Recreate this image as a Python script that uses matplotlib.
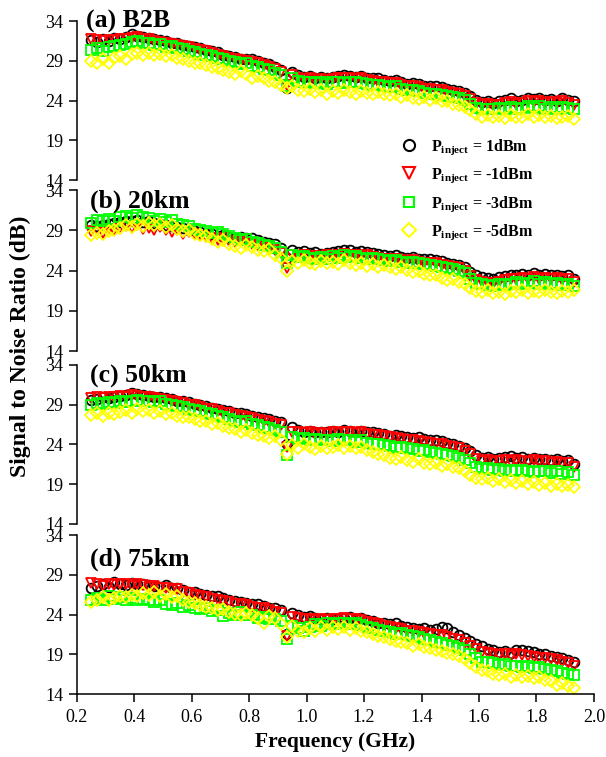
"""Four-panel SNR vs frequency plot for different injection powers and fibre lengths."""

import matplotlib
import matplotlib.pyplot as plt
from matplotlib.lines import Line2D

matplotlib.use("Agg")

# ---------------------------------------------------------------------------
# Data
# ---------------------------------------------------------------------------

FREQ_GHZ = [
    0.25, 0.27, 0.29, 0.31, 0.33, 0.35, 0.37, 0.39, 0.41, 0.43,
    0.45, 0.47, 0.49, 0.51, 0.53, 0.55, 0.57, 0.59, 0.61, 0.63,
    0.65, 0.67, 0.69, 0.71, 0.73, 0.75, 0.77, 0.79, 0.81, 0.83,
    0.85, 0.87, 0.89, 0.91, 0.93, 0.95, 0.97, 0.99, 1.01, 1.03,
    1.05, 1.07, 1.09, 1.11, 1.13, 1.15, 1.17, 1.19, 1.21, 1.23,
    1.25, 1.27, 1.29, 1.31, 1.33, 1.35, 1.37, 1.39, 1.41, 1.43,
    1.45, 1.47, 1.49, 1.51, 1.53, 1.55, 1.57, 1.59, 1.61, 1.63,
    1.65, 1.67, 1.69, 1.71, 1.73, 1.75, 1.77, 1.79, 1.81, 1.83,
    1.85, 1.87, 1.89, 1.91, 1.93,
]

PANEL_LABELS = ["(a) B2B", "(b) 20km", "(c) 50km", "(d) 75km"]
POWER_LABELS = ["1dBm", "-1dBm", "-3dBm", "-5dBm"]

# (a) B2B
B2B_P1 = [
    31.6, 31.4, 31.7, 31.5, 31.9, 31.8, 32.0, 32.4, 32.2, 32.0,
    31.9, 31.7, 31.6, 31.5, 31.3, 31.3, 31.0, 30.9, 30.8, 30.6,
    30.4, 30.2, 30.1, 29.8, 29.6, 29.5, 29.3, 29.2, 29.3, 29.0,
    28.8, 28.6, 28.3, 27.9, 25.6, 27.6, 27.2, 27.0, 27.1, 26.9,
    27.0, 26.9, 27.0, 27.1, 27.2, 27.1, 27.0, 27.1, 26.9, 26.8,
    26.8, 26.6, 26.5, 26.6, 26.4, 26.1, 26.2, 26.1, 25.9, 25.8,
    25.9, 25.7, 25.5, 25.4, 25.2, 25.0, 24.6, 24.1, 23.8, 24.0,
    23.7, 23.9, 24.1, 24.3, 24.0, 24.1, 24.4, 24.2, 24.3, 24.1,
    24.2, 24.0, 24.3, 24.1, 23.9,
]
B2B_M1 = [
    31.7, 31.6, 31.5, 31.6, 31.6, 31.7, 31.8, 31.9, 32.0, 31.8,
    31.7, 31.5, 31.4, 31.3, 31.1, 31.0, 30.9, 30.7, 30.5, 30.4,
    30.2, 30.0, 29.8, 29.6, 29.4, 29.3, 29.1, 29.0, 28.9, 28.7,
    28.5, 28.3, 28.0, 27.6, 26.0, 27.2, 26.9, 26.7, 26.8, 26.6,
    26.7, 26.6, 26.7, 26.8, 26.8, 26.9, 26.7, 26.8, 26.6, 26.5,
    26.4, 26.3, 26.2, 26.2, 26.0, 25.8, 25.8, 25.7, 25.5, 25.5,
    25.4, 25.3, 25.1, 25.0, 24.8, 24.6, 24.2, 23.7, 23.5, 23.6,
    23.4, 23.5, 23.7, 23.8, 23.6, 23.7, 23.9, 23.8, 23.9, 23.7,
    23.8, 23.7, 23.9, 23.7, 23.5,
]
B2B_M3 = [
    30.4, 30.6, 30.3, 30.8, 30.9, 31.0, 31.1, 31.4, 31.5, 31.2,
    31.3, 31.0, 31.1, 30.8, 30.9, 30.6, 30.5, 30.2, 30.1, 29.9,
    29.8, 29.6, 29.4, 29.2, 29.0, 28.9, 28.6, 28.7, 28.4, 28.3,
    28.0, 27.8, 27.5, 27.2, 25.9, 26.8, 26.5, 26.3, 26.4, 26.2,
    26.3, 26.1, 26.3, 26.4, 26.2, 26.4, 26.3, 26.2, 26.1, 26.0,
    26.0, 25.8, 25.7, 25.8, 25.5, 25.4, 25.3, 25.2, 25.0, 24.9,
    24.9, 24.7, 24.6, 24.5, 24.3, 24.1, 23.6, 23.1, 22.9, 23.0,
    22.9, 23.1, 23.0, 23.2, 23.0, 23.1, 23.3, 23.1, 23.3, 23.0,
    23.2, 23.0, 23.2, 23.1, 22.9,
]
B2B_M5 = [
    29.0, 28.8, 29.2, 28.7, 29.4, 29.6, 29.3, 29.9, 30.0, 29.7,
    30.0, 29.8, 29.9, 29.6, 29.7, 29.4, 29.2, 29.0, 28.8, 28.7,
    28.5, 28.3, 28.1, 27.8, 27.6, 27.4, 27.7, 27.3, 26.9, 27.1,
    26.8, 26.5, 26.3, 26.0, 25.6, 25.8, 25.4, 25.2, 25.5, 25.1,
    25.3, 24.9, 25.2, 25.0, 25.3, 25.1, 24.9, 25.2, 25.0, 24.8,
    25.1, 24.9, 24.7, 24.9, 24.5, 24.7, 24.4, 24.2, 24.5, 24.1,
    24.3, 23.9, 24.0, 23.6, 23.4, 23.2, 22.8, 22.3, 22.0, 22.2,
    21.9, 22.1, 21.8, 22.2, 21.9, 22.0, 22.3, 21.9, 22.2, 22.0,
    22.1, 21.8, 22.0, 22.1, 21.7,
]

# (b) 20 km
KM20_P1 = [
    29.7, 29.5, 29.6, 29.8, 29.9, 30.0, 30.2, 30.1, 30.3, 30.0,
    30.1, 29.9, 29.8, 29.7, 29.5, 29.4, 29.3, 29.1, 28.9, 28.8,
    28.6, 28.5, 28.3, 28.4, 28.2, 28.1, 28.2, 28.0, 28.1, 27.8,
    27.6, 27.4, 27.3, 26.8, 25.6, 26.5, 26.3, 26.4, 26.2, 26.3,
    26.1, 26.2, 26.3, 26.4, 26.5, 26.5, 26.3, 26.4, 26.3, 26.2,
    26.1, 26.0, 25.8, 25.9, 25.7, 25.6, 25.7, 25.5, 25.4, 25.5,
    25.3, 25.2, 25.0, 24.8, 24.7, 24.4, 23.8, 23.4, 23.2, 23.1,
    23.0, 23.2, 23.3, 23.5, 23.4, 23.6, 23.5, 23.7, 23.5, 23.6,
    23.4, 23.5, 23.3, 23.4, 23.0,
]
KM20_M1 = [
    28.9, 29.1, 28.7, 29.2, 29.0, 29.4, 29.5, 29.3, 29.6, 29.2,
    29.3, 29.1, 29.4, 29.0, 28.8, 29.0, 28.6, 28.8, 28.5, 28.3,
    28.2, 28.0, 27.8, 28.0, 27.7, 27.5, 27.7, 27.4, 27.3, 27.1,
    27.0, 26.8, 26.6, 26.2, 24.3, 25.9, 25.7, 25.9, 25.6, 25.8,
    25.7, 25.9, 25.8, 26.0, 26.1, 25.9, 26.0, 25.8, 25.9, 25.7,
    25.6, 25.5, 25.4, 25.5, 25.3, 25.2, 25.3, 25.1, 25.0, 24.9,
    24.9, 24.7, 24.6, 24.4, 24.3, 24.0, 23.3, 22.8, 22.6, 22.5,
    22.4, 22.6, 22.8, 22.9, 23.0, 23.1, 23.0, 23.2, 23.0, 23.1,
    22.9, 23.1, 22.8, 23.0, 22.6,
]
KM20_M3 = [
    29.9, 30.3, 30.1, 30.4, 30.2, 30.6, 30.8, 30.5, 30.9, 30.6,
    30.5, 30.2, 30.4, 30.0, 30.3, 29.8, 29.6, 29.5, 29.2, 29.1,
    28.9, 28.7, 28.8, 28.5, 28.3, 28.0, 27.8, 27.9, 27.6, 27.4,
    27.2, 27.0, 26.8, 26.3, 24.9, 25.9, 25.7, 25.8, 25.6, 25.5,
    25.7, 25.5, 25.8, 25.6, 25.9, 25.7, 25.8, 25.6, 25.5, 25.6,
    25.4, 25.3, 25.2, 25.3, 25.1, 25.0, 25.1, 24.9, 24.8, 24.7,
    24.6, 24.5, 24.3, 24.2, 24.0, 23.7, 23.0, 22.5, 22.3, 22.2,
    22.1, 22.3, 22.2, 22.4, 22.6, 22.3, 22.5, 22.7, 22.4, 22.6,
    22.3, 22.5, 22.2, 22.4, 22.1,
]
KM20_M5 = [
    28.4, 28.7, 28.5, 28.9, 29.1, 29.3, 29.6, 29.4, 29.8, 29.5,
    29.9, 29.6, 29.8, 29.4, 29.6, 29.2, 28.9, 29.0, 28.6, 28.4,
    28.3, 27.9, 27.6, 27.8, 27.3, 27.1, 26.8, 27.2, 26.9, 26.6,
    26.4, 26.7, 26.0, 25.6, 23.9, 25.2, 24.9, 25.3, 25.0, 24.8,
    25.2, 24.9, 25.1, 24.8, 25.3, 25.0, 24.7, 24.9, 24.6, 24.8,
    24.5, 24.7, 24.4, 24.2, 24.5, 24.1, 23.8, 24.0, 23.6, 23.4,
    23.5, 23.1, 22.8, 23.0, 22.6, 22.4, 21.9, 21.5, 21.3, 21.6,
    21.2, 21.4, 21.1, 21.5, 21.3, 21.6, 21.2, 21.5, 21.3, 21.6,
    21.4, 21.2, 21.5, 21.3, 21.6,
]

# (c) 50 km
KM50_P1 = [
    29.6, 29.7, 29.9, 29.8, 30.0, 30.1, 30.2, 30.4, 30.3, 30.2,
    30.1, 30.0, 29.9, 29.8, 29.7, 29.5, 29.4, 29.3, 29.1, 29.0,
    28.8, 28.6, 28.5, 28.3, 28.2, 28.0, 27.9, 27.8, 27.6, 27.4,
    27.3, 27.2, 27.0, 26.8, 24.0, 26.2, 25.8, 25.6, 25.7, 25.6,
    25.5, 25.6, 25.7, 25.6, 25.8, 25.7, 25.6, 25.7, 25.6, 25.5,
    25.4, 25.3, 25.1, 25.2, 25.0, 24.9, 24.8, 24.9, 24.7, 24.6,
    24.5, 24.4, 24.2, 24.1, 23.8, 23.5, 23.2, 22.6, 22.3, 22.4,
    22.2, 22.3, 22.4, 22.5, 22.3, 22.4, 22.2, 22.3, 22.1, 22.2,
    22.0, 22.1, 21.9, 22.0, 21.5,
]
KM50_M1 = [
    29.8, 29.9, 29.8, 30.0, 29.9, 30.1, 30.0, 30.2, 30.1, 30.0,
    29.9, 29.8, 29.7, 29.6, 29.5, 29.3, 29.2, 29.0, 28.9, 28.7,
    28.5, 28.4, 28.2, 28.0, 27.9, 27.7, 27.6, 27.4, 27.3, 27.1,
    26.9, 26.8, 26.6, 26.4, 23.7, 25.6, 25.5, 25.4, 25.5, 25.3,
    25.4, 25.3, 25.5, 25.4, 25.6, 25.5, 25.4, 25.5, 25.3, 25.2,
    25.2, 25.0, 24.9, 24.8, 24.7, 24.6, 24.5, 24.4, 24.3, 24.2,
    24.1, 24.0, 23.8, 23.7, 23.5, 23.2, 22.8, 22.2, 21.9, 22.0,
    21.8, 21.9, 22.0, 21.8, 22.0, 21.9, 21.8, 22.0, 21.8, 21.9,
    21.7, 21.8, 21.6, 21.7, 21.2,
]
KM50_M3 = [
    29.0, 29.2, 29.1, 29.3, 29.2, 29.4, 29.3, 29.5, 29.6, 29.4,
    29.5, 29.3, 29.4, 29.1, 29.0, 28.8, 28.7, 28.5, 28.3, 28.2,
    27.9, 27.8, 27.6, 27.4, 27.2, 27.0, 26.8, 26.9, 26.6, 26.4,
    26.2, 26.0, 25.8, 25.5, 22.6, 24.9, 24.7, 24.8, 24.6, 24.7,
    24.5, 24.6, 24.4, 24.7, 24.5, 24.6, 24.3, 24.5, 24.2, 24.1,
    24.0, 23.9, 23.8, 23.6, 23.7, 23.5, 23.4, 23.2, 23.3, 23.0,
    22.9, 22.8, 22.6, 22.5, 22.3, 22.0, 21.6, 21.1, 20.9, 21.0,
    20.8, 20.9, 20.7, 20.8, 20.6, 20.8, 20.7, 20.5, 20.7, 20.6,
    20.4, 20.6, 20.3, 20.5, 20.2,
]
KM50_M5 = [
    27.7, 27.9, 27.6, 28.0, 27.8, 28.1, 28.3, 28.0, 28.4, 28.2,
    28.3, 28.0, 28.2, 27.8, 27.9, 27.6, 27.4, 27.5, 27.2, 27.0,
    26.9, 26.6, 26.7, 26.3, 26.1, 25.9, 25.6, 25.8, 25.4, 25.2,
    25.0, 24.8, 25.1, 24.6, 22.8, 23.9, 23.6, 24.0, 23.7, 23.4,
    23.8, 23.5, 23.7, 23.9, 23.6, 23.8, 23.5, 23.7, 23.3, 23.1,
    22.8, 22.6, 22.3, 22.1, 22.4, 22.0, 21.8, 22.1, 21.7, 21.5,
    21.6, 21.3, 21.5, 21.1, 21.0, 20.6, 20.1, 19.8, 19.6, 19.8,
    19.4, 19.6, 19.3, 19.5, 19.2, 19.4, 19.0, 19.3, 18.9, 19.1,
    18.8, 19.0, 18.7, 18.9, 18.6,
]

# (d) 75 km
KM75_P1 = [
    27.3, 27.6, 27.8, 27.5, 28.1, 27.9, 27.7, 28.0, 27.9, 27.8,
    27.7, 27.6, 27.5, 27.7, 27.4, 27.3, 27.1, 26.9, 26.8, 26.6,
    26.5, 26.3, 26.4, 26.1, 25.8, 25.7, 25.6, 25.5, 25.4, 25.3,
    25.1, 24.9, 24.8, 24.6, 21.6, 24.2, 23.9, 23.7, 23.8, 23.6,
    23.5, 23.6, 23.4, 23.5, 23.6, 23.7, 23.5, 23.6, 23.3, 23.2,
    23.0, 22.9, 22.8, 22.9, 22.6, 22.4, 22.3, 22.2, 22.3, 22.1,
    22.2, 22.4, 22.3, 21.8, 21.4, 21.1, 20.7, 20.3, 20.0, 19.7,
    19.5, 19.3, 19.4, 19.2, 19.5, 19.6, 19.4, 19.3, 19.1, 19.0,
    18.8, 18.7, 18.5, 18.3, 18.0,
]
KM75_M1 = [
    28.0, 27.8, 27.6, 27.8, 27.7, 27.9, 27.8, 27.6, 27.8, 27.7,
    27.5, 27.6, 27.4, 27.3, 27.1, 27.2, 26.9, 26.7, 26.5, 26.4,
    26.2, 26.0, 25.9, 25.7, 25.6, 25.4, 25.3, 25.2, 25.0, 24.9,
    24.8, 24.6, 24.4, 24.2, 21.3, 23.7, 23.6, 23.4, 23.5, 23.3,
    23.4, 23.3, 23.5, 23.4, 23.6, 23.5, 23.4, 23.3, 23.1, 23.0,
    22.8, 22.6, 22.5, 22.3, 22.2, 22.0, 21.9, 21.8, 21.7, 21.6,
    21.5, 21.4, 21.2, 21.0, 20.8, 20.5, 20.1, 19.7, 19.3, 19.2,
    19.0, 18.9, 19.1, 18.8, 19.0, 18.9, 18.8, 18.7, 18.5, 18.6,
    18.4, 18.3, 18.1, 17.9, 17.6,
]
KM75_M3 = [
    25.8, 26.1, 25.9, 26.3, 26.0, 26.2, 25.8, 26.1, 25.9, 26.0,
    25.8, 25.6, 25.9, 25.4, 25.2, 25.5, 25.0, 25.2, 24.9, 24.7,
    24.8, 24.5, 24.6, 23.8, 24.2, 24.0, 24.3, 23.9, 24.0, 23.6,
    23.7, 23.4, 23.5, 23.2, 21.0, 22.6, 22.3, 22.0, 22.4, 22.8,
    22.6, 22.9, 22.8, 23.0, 22.9, 22.8, 22.9, 22.7, 22.5, 22.3,
    22.1, 22.0, 21.8, 21.6, 21.7, 21.5, 21.3, 21.2, 21.0, 20.8,
    20.6, 20.4, 20.2, 20.0, 19.8, 19.5, 19.0, 18.5, 18.1, 18.0,
    17.9, 17.7, 17.8, 17.5, 17.6, 17.4, 17.6, 17.3, 17.4, 17.2,
    17.0, 16.9, 16.7, 16.5, 16.4,
]
KM75_M5 = [
    25.6, 25.9, 26.2, 25.8, 26.1, 26.4, 26.2, 26.5, 26.3, 26.7,
    26.5, 26.8, 26.4, 26.6, 26.2, 26.3, 25.9, 25.6, 25.5, 25.2,
    25.0, 24.8, 24.6, 24.7, 24.3, 24.1, 23.9, 24.2, 24.0, 23.6,
    22.9, 23.8, 23.6, 22.8, 21.2, 22.6, 22.0, 21.8, 22.3, 22.0,
    22.4, 22.1, 22.5, 22.2, 22.4, 22.1, 22.3, 22.0, 21.8, 21.6,
    21.3, 21.2, 20.9, 20.7, 20.6, 20.4, 20.1, 20.3, 19.9, 19.8,
    19.6, 19.4, 19.2, 19.0, 18.8, 18.4, 17.9, 17.4, 17.1, 16.9,
    16.6, 16.4, 16.5, 16.2, 16.4, 16.1, 16.3, 16.0, 16.2, 15.8,
    15.6, 15.2, 15.4, 15.0, 14.8,
]

PANELS = [
    [B2B_P1, B2B_M1, B2B_M3, B2B_M5],
    [KM20_P1, KM20_M1, KM20_M3, KM20_M5],
    [KM50_P1, KM50_M1, KM50_M3, KM50_M5],
    [KM75_P1, KM75_M1, KM75_M3, KM75_M5],
]

# ---------------------------------------------------------------------------
# Style
# ---------------------------------------------------------------------------

plt.rcParams["font.family"] = "Liberation Serif"
plt.rcParams["mathtext.fontset"] = "custom"
plt.rcParams["mathtext.rm"] = "Liberation Serif"
plt.rcParams["mathtext.bf"] = "Liberation Serif:bold"
plt.rcParams["mathtext.it"] = "Liberation Serif:italic"

MARKERS = ["o", "v", "s", "D"]
COLORS = ["#000000", "#ff0000", "#00ff00", "#ffff00"]
MSIZES = [7.0, 7.0, 6.5, 6.0]

# axes rectangles in figure fraction: [left, bottom, width, height]
AX_RECTS = [
    [0.127, 0.762, 0.853, 0.210],
    [0.127, 0.536, 0.853, 0.213],
    [0.127, 0.308, 0.853, 0.210],
    [0.127, 0.083, 0.853, 0.210],
]
LABEL_POS = [(0.017, 0.962), (0.026, 0.894), (0.026, 0.893), (0.026, 0.811)]

fig = plt.figure(figsize=(6.06, 7.57), dpi=100)

for i, (rect, series) in enumerate(zip(AX_RECTS, PANELS)):
    ax = fig.add_axes(rect)
    ax.set_facecolor("none")
    for vals, mk, col, ms in zip(series, MARKERS, COLORS, MSIZES):
        ax.plot(
            FREQ_GHZ, vals, linestyle="none", marker=mk, markersize=ms,
            markerfacecolor="none", markeredgecolor=col, markeredgewidth=1.3,
            clip_on=False,
        )
    ax.set_xlim(0.2, 2.0)
    ax.set_ylim(14, 34)
    ax.set_yticks([14, 19, 24, 29, 34])
    ax.tick_params(axis="y", direction="out", length=6, width=1.1, labelsize=13, pad=4)
    for side in ("top", "right"):
        ax.spines[side].set_visible(False)
    ax.spines["left"].set_linewidth(1.1)
    if i < 3:
        ax.spines["bottom"].set_visible(False)
        ax.set_xticks([])
    else:
        ax.spines["bottom"].set_linewidth(1.1)
        ax.set_xticks([0.2, 0.4, 0.6, 0.8, 1.0, 1.2, 1.4, 1.6, 1.8, 2.0])
        ax.set_xticklabels(["0.2", "0.4", "0.6", "0.8", "1.0", "1.2", "1.4", "1.6", "1.8", "2.0"])
        ax.tick_params(axis="x", direction="out", length=6, width=1.1, labelsize=13, pad=5)
        ax.set_xlabel("Frequency (GHz)", fontsize=15.5, fontweight="bold", labelpad=4)
    lx, ly = LABEL_POS[i]
    ax.text(lx, ly, PANEL_LABELS[i], transform=ax.transAxes, fontsize=18.5,
            fontweight="bold", va="baseline", ha="left")

fig.text(0.033, 0.543, "Signal to Noise Ratio (dB)", rotation=90, fontsize=17,
         fontweight="bold", ha="center", va="center")

# Legend (figure level, so it sits over both of the top panels)
handles = [
    Line2D([], [], linestyle="none", marker=mk, markersize=ms + 1,
           markerfacecolor="none", markeredgecolor=col, markeredgewidth=1.5)
    for mk, col, ms in zip(MARKERS, COLORS, MSIZES)
]
labels = [r"$\mathbf{P_{inject}}$ = " + p for p in POWER_LABELS]
fig.legend(
    handles, labels, loc="upper left", bbox_to_anchor=(0.652, 0.827),
    frameon=False, handlelength=1.0, handletextpad=0.85, labelspacing=0.55,
    borderaxespad=0, prop={"size": 11.5, "weight": "bold"},
)

fig.savefig("out.png", dpi=100)
plt.close(fig)
